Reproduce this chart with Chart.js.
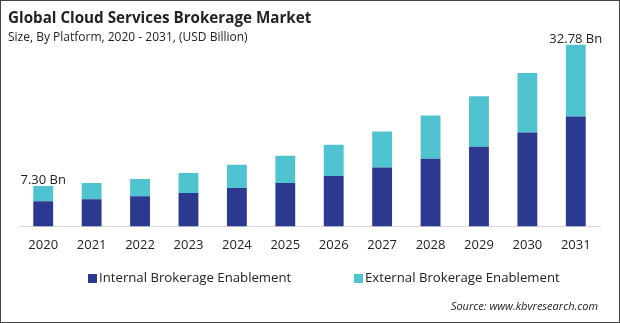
<!DOCTYPE html>
<html>
<head>
<meta charset="utf-8">
<script src="https://cdn.jsdelivr.net/npm/chart.js@4/dist/chart.umd.min.js"></script>
<style>
	html, body { margin: 0; padding: 0; background: #fff; }
	#wrap { width: 620px; height: 323px; position: relative; }
</style>
</head>
<body>
<div id="wrap"><canvas id="graficoMercado"></canvas></div>
<script>
// Datos del mercado (USD Billion)
const years = ['2020', '2021', '2022', '2023', '2024', '2025', '2026', '2027', '2028', '2029', '2030', '2031'];
const internalValues = [4.55, 4.92, 5.46, 6.01, 6.92, 7.83, 9.11, 10.62, 12.20, 14.39, 16.94, 19.85];
const externalValues = [2.75, 2.91, 3.10, 3.64, 4.19, 4.92, 5.64, 6.50, 7.84, 9.11, 10.75, 12.93];
const seriesNames = ['Internal Brokerage Enablement', 'External Brokerage Enablement'];
const seriesColors = ['#2B3990', '#4FC3CF'];
const labelledBars = { 0: '7.30 Bn', 11: '32.78 Bn' };

const FONT = '"Open Sans", "DejaVu Sans", sans-serif';

// Título, leyenda, fuente y etiquetas de valor dibujados sobre el lienzo
const textosPlugin = {
	id: 'textos',
	afterDraw(chart) {
		const ctx = chart.ctx;
		ctx.save();

		// marco exterior
		ctx.strokeStyle = '#444';
		ctx.lineWidth = 1;
		ctx.strokeRect(0.5, 0.5, chart.width - 1, chart.height - 1);

		ctx.fillStyle = '#222';
		ctx.textAlign = 'left';
		ctx.textBaseline = 'alphabetic';
		ctx.font = 'bold 15.2px ' + FONT;
		ctx.fillText('Global Cloud Services Brokerage Market', 8, 23);
		ctx.font = '12px ' + FONT;
		ctx.fillText('Size, By Platform, 2020 - 2031, (USD Billion)', 8, 41);

		// etiquetas de total sobre las barras
		const meta = chart.getDatasetMeta(1);
		ctx.font = '13px ' + FONT;
		ctx.textAlign = 'center';
		ctx.fillStyle = '#222';
		Object.keys(labelledBars).forEach(function (i) {
			const bar = meta.data[i];
			ctx.fillText(labelledBars[i], bar.x, bar.y - 2);
		});

		// leyenda
		const legendX = [88, 354];
		ctx.font = '13.2px ' + FONT;
		ctx.textAlign = 'left';
		ctx.textBaseline = 'middle';
		chart.data.datasets.forEach(function (ds, i) {
			ctx.fillStyle = ds.backgroundColor;
			ctx.fillRect(legendX[i], 274, 9, 9);
			ctx.fillStyle = '#222';
			ctx.fillText(ds.label, legendX[i] + 11, 278.5);
		});

		// fuente
		ctx.font = 'italic 11px ' + FONT;
		ctx.textAlign = 'right';
		ctx.fillStyle = '#222';
		ctx.fillText('Source: www.kbvresearch.com', 598, 307);

		ctx.restore();
	},
};

const ctx = document.getElementById('graficoMercado').getContext('2d');
const graficoMercado = new Chart(ctx, {
	type: 'bar',
	data: {
		labels: years,
		datasets: [
			{
				label: seriesNames[0],
				data: internalValues,
				backgroundColor: seriesColors[0],
				barPercentage: 0.41,
				categoryPercentage: 1,
			},
			{
				label: seriesNames[1],
				data: externalValues,
				backgroundColor: seriesColors[1],
				barPercentage: 0.41,
				categoryPercentage: 1,
			},
		],
	},
	options: {
		responsive: true,
		maintainAspectRatio: false,
		animation: false,
		layout: {
			padding: { top: 27, left: 19, right: 20, bottom: 59 },
		},
		plugins: {
			legend: { display: false },
			tooltip: { enabled: false },
		},
		scales: {
			x: {
				stacked: true,
				grid: { display: false, drawTicks: false },
				border: { display: true, color: '#d9d9d9', width: 1 },
				ticks: {
					padding: 11,
					color: '#222',
					font: { family: FONT, size: 13 },
				},
			},
			y: {
				stacked: true,
				display: false,
				min: 0,
				max: 36,
			},
		},
	},
	plugins: [textosPlugin],
});
</script>
</body>
</html>
